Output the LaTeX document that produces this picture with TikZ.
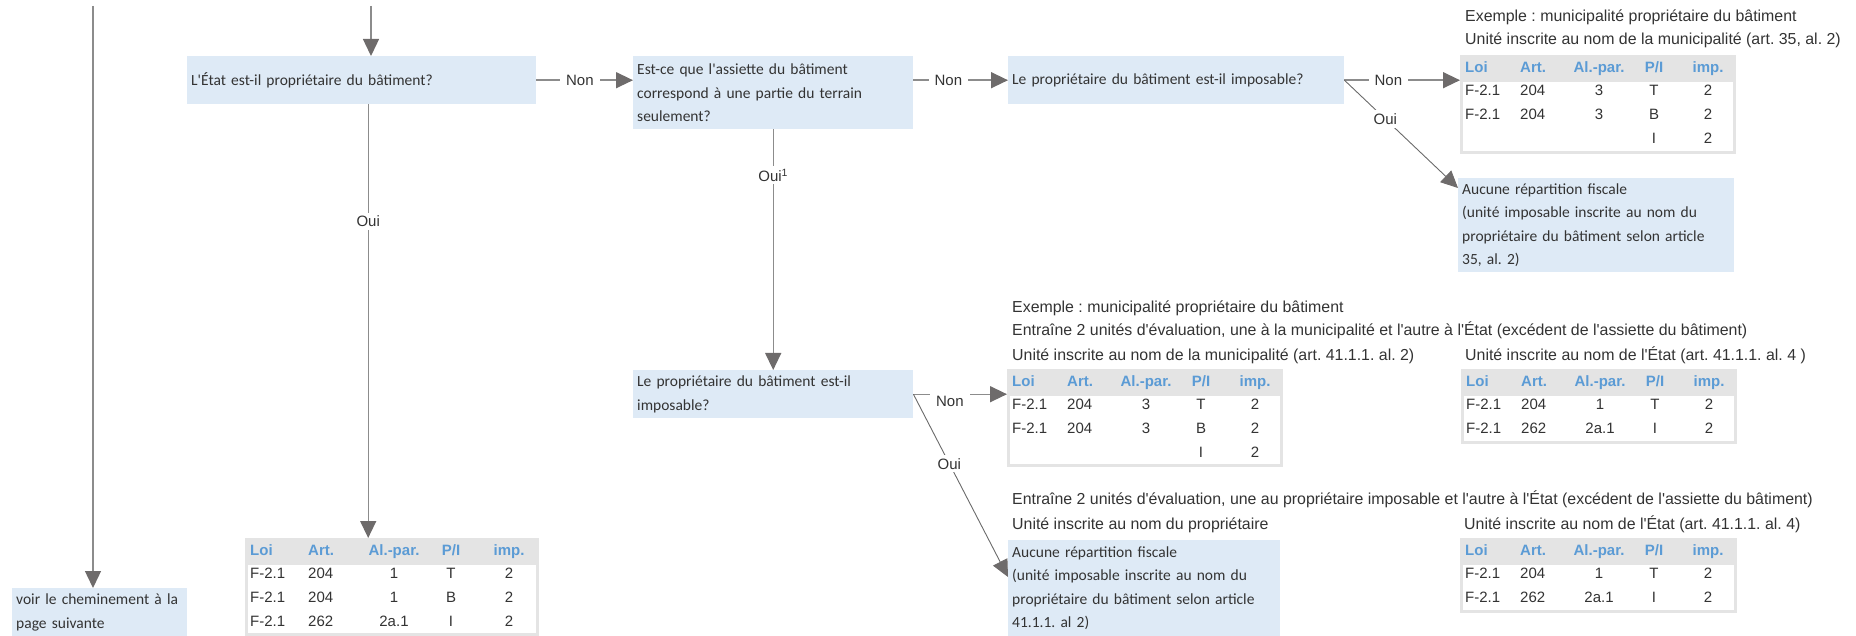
\documentclass[tikz,border=0pt]{standalone}
\usepackage{fontspec}
\setmainfont{Carlito}[Ligatures=TeXOff]
\newfontfamily\arialf{Liberation Sans}[Ligatures=TeXOff]
\usetikzlibrary{arrows.meta}
\frenchspacing

\definecolor{boxblue}{HTML}{DEEAF6}
\definecolor{tabgray}{HTML}{E4E4E4}
\definecolor{hdrblue}{HTML}{5B9BD5}
\definecolor{linegray}{HTML}{8C8C8C}
\definecolor{diaggray}{HTML}{6A6A6A}
\definecolor{tipgray}{HTML}{6E6B6B}
\definecolor{txt}{HTML}{333333}

\tikzset{
  qbox/.style={fill=boxblue, draw=none, anchor=north west, inner xsep=4pt, inner ysep=0pt,
    align=left, font=\fontsize{15.5}{23.5}\selectfont, text=txt},
  caption/.style={anchor=mid west, inner sep=0pt, font=\arialf\fontsize{15.9}{18}\selectfont, text=txt},
  cell/.style={inner sep=0pt, font=\arialf\fontsize{15}{18}\selectfont, text=txt},
  hcell/.style={inner sep=0pt, font=\arialf\bfseries\fontsize{15}{18}\selectfont, text=hdrblue},
  tabframe/.style={fill=tabgray, draw=none, inner sep=0pt, anchor=north west},
  tip/.style={-{Triangle[length=17pt,width=16pt,color=tipgray]}},
  conn/.style={draw=linegray, line width=1.4pt, tip},
  diag/.style={draw=diaggray, line width=0.9pt, tip},
  lbl/.style={fill=white, inner xsep=6pt, inner ysep=3pt, font=\arialf\fontsize{15}{17}\selectfont, text=txt}
}

% table frame: grey border, grey header band, white body
\newcommand\ftab[5]{%
  \node[tabframe, minimum width=#4pt, minimum height=#5pt] (#1) at (#2,#3) {};
  \fill[white] ([shift={(3,27)}]#1.north west) rectangle ([shift={(-3,-3)}]#1.south east);
}
% header line of a table
\newcommand\fhead[1]{%
  \node[hcell, anchor=mid west] (#1-h-a) at ([shift={(\cA,15)}]#1.north west) {Loi};
  \node[hcell, anchor=mid west] (#1-h-b) at ([shift={(\cB,15)}]#1.north west) {Art.};
  \node[hcell, anchor=mid] (#1-h-c) at ([shift={(\cC,15)}]#1.north west) {Al.-par.};
  \node[hcell, anchor=mid] (#1-h-d) at ([shift={(\cD,15)}]#1.north west) {P/I};
  \node[hcell, anchor=mid] (#1-h-e) at ([shift={(\cE,15)}]#1.north west) {imp.};
}
% data line of a table: table, row id, y offset, five cells
\newcommand\frow[8]{%
  \node[cell, anchor=mid west] (#1-#2-a) at ([shift={(\cA,#3)}]#1.north west) {#4};
  \node[cell, anchor=mid west] (#1-#2-b) at ([shift={(\cB,#3)}]#1.north west) {#5};
  \node[cell, anchor=mid] (#1-#2-c) at ([shift={(\cC,#3)}]#1.north west) {#6};
  \node[cell, anchor=mid] (#1-#2-d) at ([shift={(\cD,#3)}]#1.north west) {#7};
  \node[cell, anchor=mid] (#1-#2-e) at ([shift={(\cE,#3)}]#1.north west) {#8};
}

\begin{document}
\begin{tikzpicture}[x=1pt, y=-1pt]
\useasboundingbox (0,0) rectangle (1856,636);

% question and result boxes
\node[qbox, text width=341pt, minimum height=48pt] (b1) at (187,56) {L'État est-il propriétaire du bâtiment?};
\node[qbox, text width=272pt, minimum height=73pt] (b2) at (633,56) {Est-ce que l'assiette du bâtiment\\correspond à une partie du terrain\\seulement?};
\node[qbox, text width=328pt, minimum height=48pt] (b3) at (1008,56) {Le propriétaire du bâtiment est-il imposable?};
\node[qbox, text width=272pt, minimum height=48pt] (b4) at (633,370) {Le propriétaire du bâtiment est-il\\imposable?};
\node[qbox, text width=268pt, minimum height=94pt] (a1) at (1458,178) {Aucune répartition fiscale\\(unité imposable inscrite au nom du\\propriétaire du bâtiment selon article\\35, al. 2)};
\node[qbox, text width=264pt, minimum height=96pt] (a2) at (1008,540) {Aucune répartition fiscale\\(unité imposable inscrite au nom du\\propriétaire du bâtiment selon article\\41.1.1. al 2)};
\node[qbox, text width=167pt, minimum height=48pt] (v) at (12,588) {voir le cheminement à la\\page suivante};

% captions
\node[caption] (c1a) at (1465,19) {Exemple : municipalité propriétaire du bâtiment};
\node[caption] (c1b) at (1465,42) {Unité inscrite au nom de la municipalité (art. 35, al. 2)};
\node[caption] (c2a) at (1012,310) {Exemple : municipalité propriétaire du bâtiment};
\node[caption] (c2b) at (1012,333) {Entraîne 2 unités d'évaluation, une à la municipalité et l'autre à l'État (excédent de l'assiette du bâtiment)};
\node[caption] (c2c) at (1012,358) {Unité inscrite au nom de la municipalité (art. 41.1.1. al. 2)};
\node[caption] (c2d) at (1465,358) {Unité inscrite au nom de l'État (art. 41.1.1. al. 4 )};
\node[caption] (c3a) at (1012,502) {Entraîne 2 unités d'évaluation, une au propriétaire imposable et l'autre à l'État (excédent de l'assiette du bâtiment)};
\node[caption] (c3b) at (1012,527) {Unité inscrite au nom du propriétaire};
\node[caption] (c3c) at (1464,527) {Unité inscrite au nom de l'État (art. 41.1.1. al. 4)};

% tables
\def\cA{5}\def\cB{60}\def\cC{139}\def\cD{194}\def\cE{248}
\ftab{t1}{1460}{55}{276}{99}
\fhead{t1}
\frow{t1}{1}{38.5}{F-2.1}{204}{3}{T}{2}
\frow{t1}{2}{62.5}{F-2.1}{204}{3}{B}{2}
\node[cell, anchor=mid] (t1-3-d) at ([shift={(\cD,86.5)}]t1.north west) {I};
\node[cell, anchor=mid] (t1-3-e) at ([shift={(\cE,86.5)}]t1.north west) {2};

\ftab{t2}{1007}{369}{276}{98}
\fhead{t2}
\frow{t2}{1}{38.5}{F-2.1}{204}{3}{T}{2}
\frow{t2}{2}{62.5}{F-2.1}{204}{3}{B}{2}
\node[cell, anchor=mid] (t2-3-d) at ([shift={(\cD,86.5)}]t2.north west) {I};
\node[cell, anchor=mid] (t2-3-e) at ([shift={(\cE,86.5)}]t2.north west) {2};

\ftab{t3}{1461}{369}{276}{75}
\fhead{t3}
\frow{t3}{1}{38.5}{F-2.1}{204}{1}{T}{2}
\frow{t3}{2}{62.5}{F-2.1}{262}{2a.1}{I}{2}

\ftab{t4}{1460}{538}{277}{75}
\fhead{t4}
\frow{t4}{1}{38.5}{F-2.1}{204}{1}{T}{2}
\frow{t4}{2}{62.5}{F-2.1}{262}{2a.1}{I}{2}

\def\cA{5}\def\cB{63}\def\cC{149}\def\cD{206}\def\cE{264}
\ftab{t0}{245}{538}{294}{98}
\fhead{t0}
\frow{t0}{1}{38.5}{F-2.1}{204}{1}{T}{2}
\frow{t0}{2}{62.5}{F-2.1}{204}{1}{B}{2}
\frow{t0}{3}{86.5}{F-2.1}{262}{2a.1}{I}{2}

% connectors
\coordinate (top1) at (371,6);
\coordinate (top0) at (93,6);
\draw[conn] (top1) -- (top1 |- b1.north);
\draw[conn] (top0) -- (top0 |- v.north);
\draw[conn] ([xshift=6.5pt]b1.south) -- node[lbl, pos=0.27]{Oui} ([xshift=6.5pt]b1.south |- t0.north);
\draw[conn] (b1.east) -- node[lbl, pos=0.45]{Non} (b2.west |- b1.east);
\draw[conn] (b2.east |- b3.west) -- node[lbl, pos=0.37]{Non} (b3.west);
\draw[conn] (b3.east) -- node[lbl, pos=0.38]{Non} (t1.west |- b3.east);
\draw[diag] (b3.east) -- node[lbl, pos=0.36]{Oui} ([yshift=-10pt]a1.north west);
\draw[conn] (b2.south) -- node[lbl, pos=0.19]{Oui\textsuperscript{1}} (b4.north);
\draw[conn] (b4.east) -- node[lbl, pos=0.39, yshift=-7pt]{Non} (t2.west |- b4.east);
\draw[diag] (b4.east) -- node[lbl, pos=0.38]{Oui} ([yshift=-37pt]a2.north west);
\end{tikzpicture}
\end{document}
